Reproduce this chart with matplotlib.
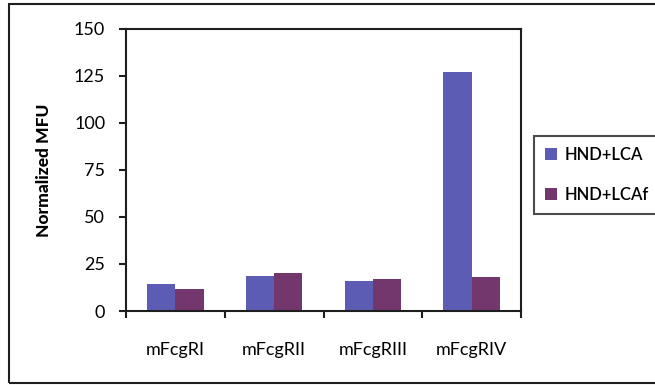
import matplotlib
matplotlib.use("Agg")
import matplotlib.pyplot as plt
from matplotlib.patches import Rectangle
import numpy as np

categories = ["mFcgRI", "mFcgRII", "mFcgRIII", "mFcgRIV"]
series_names = ["HND+LCA", "HND+LCAf"]
hnd_lca = [14.2, 18.8, 16.1, 127.3]
hnd_lcaf = [11.9, 20.2, 16.9, 18.3]
y_ticks = [0, 25, 50, 75, 100, 125, 150]

colors = ["#5C5CB4", "#73376E"]
edge = "#1e1e1e"

plt.rcParams["font.family"] = ["Lato", "DejaVu Sans"]

fig = plt.figure(figsize=(6.55, 3.85), dpi=100)
ax = fig.add_axes([126 / 655, 74 / 385, 395 / 655, 282 / 385])

x = np.arange(len(categories))
w = 0.285
ax.bar(x - w / 2, hnd_lca, width=w, color=colors[0], label=series_names[0])
ax.bar(x + w / 2, hnd_lcaf, width=w, color=colors[1], label=series_names[1])

ax.set_xlim(-0.5, len(categories) - 0.5)
ax.set_ylim(0, 150)
ax.set_yticks(y_ticks)
ax.set_yticklabels([str(t) for t in y_ticks], fontsize=13)

ax.set_xticks(x)
ax.set_xticklabels(categories, fontsize=13)
ax.set_xticks(np.arange(-0.5, len(categories)), minor=True)
ax.tick_params(axis="x", which="major", length=0, pad=22)
ax.tick_params(axis="x", which="minor", length=5, width=1.5, direction="out", color=edge)
ax.tick_params(axis="y", which="major", length=5, width=1.5, direction="out", color=edge, pad=10)

for s in ax.spines.values():
    s.set_linewidth(1.5)
    s.set_color(edge)

ax.set_ylabel("Normalized MFU", fontsize=12.5, fontweight="black", labelpad=16)

leg = fig.legend(loc="center left", bbox_to_anchor=(534 / 655, 210 / 385),
                 borderaxespad=0, prop={"size": 12, "weight": "semibold"},
                 frameon=True, fancybox=False, edgecolor=edge,
                 handlelength=0.7, handleheight=0.7, handletextpad=0.5,
                 labelspacing=1.45, borderpad=0.65)
leg.get_frame().set_linewidth(1.5)

# outer chart border
fig.patches.append(Rectangle((9 / 655, 2 / 385), 660 / 655, 379 / 385,
                             transform=fig.transFigure, fill=False,
                             edgecolor=edge, linewidth=1.5))

fig.savefig("out.png", dpi=100)
